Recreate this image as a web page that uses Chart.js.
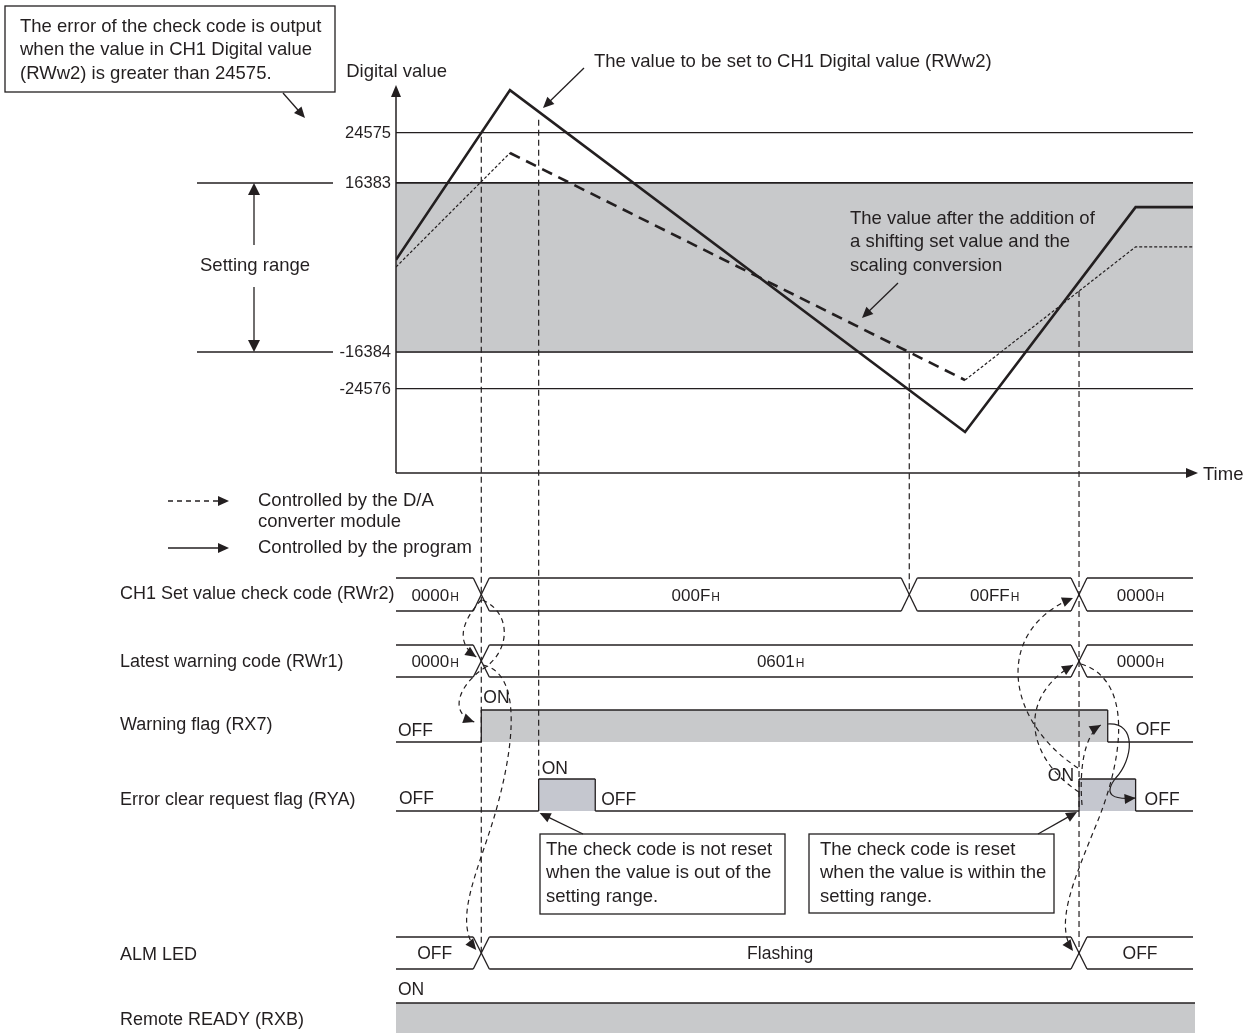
<!DOCTYPE html>
<html>
<head>
<meta charset="utf-8">
<script src="https://cdn.jsdelivr.net/npm/chart.js@4.4.1/dist/chart.umd.min.js"></script>
<style>
  html, body { margin: 0; padding: 0; background: #fff; }
  canvas { display: block; }
</style>
</head>
<body>
<canvas id="chart" width="1250" height="1033"></canvas>
<script>
// time runs 0..100 (arbitrary units), digital values
const timePoints = [0, 14.3, 71.4, 92.8, 100];
const valueToSet = [1500, 31600, -34100, 11700, 11700];
const valueAfterConversion = [100, 21300, -22600, 4000, 4000];
const yTicks = [24575, 16383, -16384, -24576];
const settingRange = [-16384, 16383];

// timing rows
const checkCodeTimes = [0, 10.7, 64.4, 85.7];
const checkCodeValues = ['0000', '000F', '00FF', '0000'];
const warningCodeTimes = [0, 10.7, 85.7];
const warningCodeValues = ['0000', '0601', '0000'];
const warningFlagOn = [10.7, 89.3];
const clearRequestPulses = [[17.9, 25.0], [85.7, 92.8]];
const almLedTimes = [0, 10.7, 85.7];
const almLedStates = ['OFF', 'Flashing', 'OFF'];

const INK = '#231f20';
const GRAY = '#c8c9cb';
const PULSE = '#c5c7cf';
const FAMILY = '"Liberation Sans", Arial, sans-serif';

// the y axis of the figure is schematic: each band between ticks has its own spacing
const knotValues = [-24576, -16384, 16383, 24575];
const knotDecimals = [0.2182, 0.3143, 0.7532, 0.8831];

function segIndex(arr, v) {
  let i = 0;
  while (i < arr.length - 2 && v > arr[i + 1]) i++;
  return i;
}
function valueToDecimal(v) {
  const i = segIndex(knotValues, v);
  const v0 = knotValues[i], v1 = knotValues[i + 1];
  const d0 = knotDecimals[i], d1 = knotDecimals[i + 1];
  return d0 + (v - v0) * (d1 - d0) / (v1 - v0);
}
function decimalToValue(d) {
  const i = segIndex(knotDecimals, d);
  const v0 = knotValues[i], v1 = knotValues[i + 1];
  const d0 = knotDecimals[i], d1 = knotDecimals[i + 1];
  return v0 + (d - d0) * (v1 - v0) / (d1 - d0);
}

class SchematicScale extends Chart.LinearScale {
  getPixelForValue(value) { return this.getPixelForDecimal(valueToDecimal(value)); }
  getValueForPixel(pixel) { return decimalToValue(this.getDecimalForPixel(pixel)); }
}
SchematicScale.id = 'schematic';
SchematicScale.defaults = Chart.LinearScale.defaults;
Chart.register(SchematicScale);

function font(size) { return size + 'px ' + FAMILY; }

function text(ctx, str, x, y, size, align) {
  ctx.font = font(size);
  ctx.fillStyle = INK;
  ctx.textAlign = align || 'left';
  ctx.textBaseline = 'middle';
  ctx.fillText(str, x, y);
}

function hexText(ctx, value, cx, cy) {
  ctx.font = font(17);
  const w1 = ctx.measureText(value).width;
  ctx.font = font(12);
  const w2 = ctx.measureText('H').width;
  const x = cx - (w1 + w2) / 2;
  ctx.fillStyle = INK;
  ctx.textAlign = 'left';
  ctx.textBaseline = 'alphabetic';
  ctx.font = font(17);
  ctx.fillText(value, x, cy + 6);
  ctx.font = font(12);
  ctx.fillText('H', x + w1 + 1, cy + 6);
}

function arrowHead(ctx, x, y, angle, len, half) {
  len = len || 11; half = half || 5;
  ctx.save();
  ctx.translate(x, y);
  ctx.rotate(angle);
  ctx.beginPath();
  ctx.moveTo(0, 0);
  ctx.lineTo(-len, -half);
  ctx.lineTo(-len, half);
  ctx.closePath();
  ctx.fillStyle = INK;
  ctx.fill();
  ctx.restore();
}

function arrowLine(ctx, x0, y0, x1, y1, dash, len, half) {
  const a = Math.atan2(y1 - y0, x1 - x0);
  const l = len || 11;
  ctx.save();
  ctx.setLineDash(dash || []);
  ctx.strokeStyle = INK;
  ctx.lineWidth = 1.3;
  ctx.beginPath();
  ctx.moveTo(x0, y0);
  ctx.lineTo(x1 - (l - 1) * Math.cos(a), y1 - (l - 1) * Math.sin(a));
  ctx.stroke();
  ctx.restore();
  arrowHead(ctx, x1, y1, a, l, half);
}

function curveArrow(ctx, pts, dashed) {
  ctx.save();
  ctx.strokeStyle = INK;
  ctx.lineWidth = 1.2;
  ctx.setLineDash(dashed ? [5, 4] : []);
  ctx.beginPath();
  ctx.moveTo(pts[0], pts[1]);
  for (let i = 2; i < pts.length; i += 6) {
    ctx.bezierCurveTo(pts[i], pts[i + 1], pts[i + 2], pts[i + 3], pts[i + 4], pts[i + 5]);
  }
  ctx.stroke();
  ctx.restore();
  const n = pts.length;
  arrowHead(ctx, pts[n - 2], pts[n - 1], Math.atan2(pts[n - 1] - pts[n - 3], pts[n - 2] - pts[n - 4]), 11, 5);
}

function line(ctx, x0, y0, x1, y1, width, dash) {
  ctx.save();
  ctx.strokeStyle = INK;
  ctx.lineWidth = width || 1.3;
  ctx.setLineDash(dash || []);
  ctx.beginPath();
  ctx.moveTo(x0, y0);
  ctx.lineTo(x1, y1);
  ctx.stroke();
  ctx.restore();
}

function box(ctx, x, y, w, h, lines, textX, firstY) {
  ctx.fillStyle = '#fff';
  ctx.fillRect(x, y, w, h);
  ctx.strokeStyle = INK;
  ctx.lineWidth = 1.3;
  ctx.setLineDash([]);
  ctx.strokeRect(x, y, w, h);
  lines.forEach((s, i) => text(ctx, s, textX, firstY + i * 23.3, 18.5));
}

// bus row with X transitions
function bus(ctx, xs, left, right, top, bot, drawLabel) {
  const h = 8, mid = (top + bot) / 2;
  const edges = xs.slice(1);
  for (let i = 0; i < xs.length; i++) {
    const a = i === 0 ? left : edges[i - 1] + h;
    const b = i === xs.length - 1 ? right : edges[i] - h;
    line(ctx, a, top, b, top);
    line(ctx, a, bot, b, bot);
    drawLabel(i, (a + b) / 2, mid);
  }
  edges.forEach(x => {
    line(ctx, x - h, top, x + h, bot);
    line(ctx, x - h, bot, x + h, top);
  });
}

const timingPlugin = {
  id: 'timing',
  afterDraw(chart) {
    const ctx = chart.ctx;
    const xs = chart.scales.x, ys = chart.scales.y;
    const area = chart.chartArea;
    const px = t => xs.getPixelForValue(t);
    const L = area.left, R = area.right;

    function lineYAt(series, t) {
      let i = 0;
      while (i < timePoints.length - 2 && t > timePoints[i + 1]) i++;
      const y0 = ys.getPixelForValue(series[i]), y1 = ys.getPixelForValue(series[i + 1]);
      return y0 + (y1 - y0) * (t - timePoints[i]) / (timePoints[i + 1] - timePoints[i]);
    }

    ctx.save();

    // axes with arrows
    line(ctx, L, area.bottom, L, area.top + 8, 1.5);
    arrowHead(ctx, L, area.top - 3, -Math.PI / 2, 12, 5);
    line(ctx, L, area.bottom, R - 4, area.bottom, 1.5);
    arrowHead(ctx, R + 5, area.bottom, 0, 12, 5);
    text(ctx, 'Time', R + 10, area.bottom + 2, 18.5);
    text(ctx, 'Digital value', 447, 72, 18.5, 'right');

    // tick labels
    yTicks.forEach(v => text(ctx, String(v), 391, ys.getPixelForValue(v), 16.5, 'right'));

    // setting range marker
    const yHi = ys.getPixelForValue(settingRange[1]);
    const yLo = ys.getPixelForValue(settingRange[0]);
    line(ctx, 197, yHi, 333, yHi);
    line(ctx, 197, yLo, 333, yLo);
    arrowLine(ctx, 254, 245, 254, yHi, null, 12, 6);
    arrowLine(ctx, 254, 287, 254, yLo, null, 12, 6);
    text(ctx, 'Setting range', 200, 266, 18.5);

    // annotations of the upper graph
    box(ctx, 5, 6, 330, 86, [
      'The error of the check code is output',
      'when the value in CH1 Digital value',
      '(RWw2) is greater than 24575.'
    ], 20, 27);
    arrowLine(ctx, 283, 93, 305, 118);
    text(ctx, 'The value to be set to CH1 Digital value (RWw2)', 594, 62, 18.5);
    arrowLine(ctx, 584, 68, 543, 108);
    ['The value after the addition of', 'a shifting set value and the', 'scaling conversion']
      .forEach((s, i) => text(ctx, s, 850, 219 + i * 23.3, 18.5));
    arrowLine(ctx, 898, 283, 862, 318);

    // legend
    arrowLine(ctx, 168, 501, 229, 501, [5, 4]);
    text(ctx, 'Controlled by the D/A', 258, 501, 18.5);
    text(ctx, 'converter module', 258, 522, 18.5);
    arrowLine(ctx, 168, 548, 229, 548);
    text(ctx, 'Controlled by the program', 258, 548, 18.5);

    // row titles
    text(ctx, 'CH1 Set value check code (RWr2)', 120, 594, 18);
    text(ctx, 'Latest warning code (RWr1)', 120, 662, 18);
    text(ctx, 'Warning flag (RX7)', 120, 725, 18);
    text(ctx, 'Error clear request flag (RYA)', 120, 800, 18);
    text(ctx, 'ALM LED', 120, 955, 18);
    text(ctx, 'Remote READY (RXB)', 120, 1020, 18);

    // check code and warning code buses
    bus(ctx, checkCodeTimes.map(px), L, R, 578, 611, (i, cx, cy) => hexText(ctx, checkCodeValues[i], cx, cy));
    bus(ctx, warningCodeTimes.map(px), L, R, 645, 677, (i, cx, cy) => hexText(ctx, warningCodeValues[i], cx, cy));

    // warning flag
    const wOn = px(warningFlagOn[0]), wOff = px(warningFlagOn[1]);
    ctx.fillStyle = GRAY;
    ctx.fillRect(wOn, 710, wOff - wOn, 32);
    line(ctx, L, 742, wOn, 742);
    line(ctx, wOn, 742, wOn, 710);
    line(ctx, wOn, 710, wOff, 710);
    line(ctx, wOff, 710, wOff, 742);
    line(ctx, wOff, 742, R, 742);
    text(ctx, 'OFF', 398, 731, 17.5);
    text(ctx, 'ON', wOn + 2, 698, 17.5);
    text(ctx, 'OFF', wOff + 28, 730, 17.5);

    // error clear request flag
    let last = L;
    clearRequestPulses.forEach(([a, b]) => {
      const xa = px(a), xb = px(b);
      ctx.fillStyle = PULSE;
      ctx.fillRect(xa, 779, xb - xa, 32);
      line(ctx, last, 811, xa, 811);
      line(ctx, xa, 811, xa, 779);
      line(ctx, xa, 779, xb, 779);
      line(ctx, xb, 779, xb, 811);
      last = xb;
    });
    line(ctx, last, 811, R, 811);
    const p1a = px(clearRequestPulses[0][0]), p1b = px(clearRequestPulses[0][1]);
    const p2a = px(clearRequestPulses[1][0]), p2b = px(clearRequestPulses[1][1]);
    text(ctx, 'OFF', 399, 799, 17.5);
    text(ctx, 'ON', p1a + 3, 769, 17.5);
    text(ctx, 'OFF', p1b + 6, 800, 17.5);
    text(ctx, 'ON', p2a - 5, 776, 17.5, 'right');
    text(ctx, 'OFF', p2b + 9, 800, 17.5);

    // ALM LED
    bus(ctx, almLedTimes.map(px), L, R, 937, 969, (i, cx, cy) => text(ctx, almLedStates[i], cx, cy + 1, 17.5, 'center'));

    // remote READY
    ctx.fillStyle = GRAY;
    ctx.fillRect(L, 1003, R + 2 - L, 40);
    line(ctx, L, 1003, R + 2, 1003);
    text(ctx, 'ON', 398, 990, 17.5);

    // guide lines from the graph down to the rows
    const dash = [6, 4];
    const tA = checkCodeTimes[1], tB = clearRequestPulses[0][0], tC = checkCodeTimes[2], tD = checkCodeTimes[3];
    line(ctx, px(tA), lineYAt(valueToSet, tA) + 4, px(tA), 953, 1.2, dash);
    line(ctx, px(tB), lineYAt(valueToSet, tB) + 8, px(tB), 779, 1.2, dash);
    line(ctx, px(tC), lineYAt(valueAfterConversion, tC) + 1, px(tC), 594, 1.2, dash);
    line(ctx, px(tD), lineYAt(valueAfterConversion, tD), px(tD), 953, 1.2, dash);

    // cause/effect arrows at the range error
    const x0 = px(tA);
    curveArrow(ctx, [x0, 600, x0 - 14, 615, x0 - 30, 640, x0 - 5, 657], true);
    curveArrow(ctx, [x0 + 1, 600, x0 + 30, 612, x0 + 30, 650, x0 + 3, 668,
      x0 - 20, 683, x0 - 35, 712, x0 - 7, 722], true);
    curveArrow(ctx, [x0 + 2, 665, x0 + 45, 675, x0 + 30, 760, x0 + 12, 820,
      x0 - 5, 875, x0 - 28, 922, x0 - 5, 950], true);

    // cause/effect arrows at the error clear
    const x1 = px(tD), xf = wOff;
    curveArrow(ctx, [x1 - 1, 768, x1 - 75, 720, x1 - 85, 630, x1 - 6, 598], true);
    curveArrow(ctx, [x1, 792, x1 - 50, 760, x1 - 65, 700, x1 - 6, 665], true);
    curveArrow(ctx, [x1 + 3, 805, x1, 770, x1 + 5, 735, xf - 7, 725], true);
    curveArrow(ctx, [x1 + 2, 664, x1 + 55, 680, x1 + 45, 760, x1 + 15, 830,
      x1 - 5, 880, x1 - 25, 925, x1 - 6, 951], true);
    curveArrow(ctx, [xf, 724, xf + 30, 722, xf + 25, 760, xf + 8, 778,
      xf - 5, 795, xf + 5, 800, p2b, 798], false);

    // notes under the error clear request row
    box(ctx, 540, 834, 245, 80, [
      'The check code is not reset',
      'when the value is out of the',
      'setting range.'
    ], 546, 850);
    arrowLine(ctx, 583, 834, p1a + 1, 813);
    box(ctx, 809, 834, 245, 79, [
      'The check code is reset',
      'when the value is within the',
      'setting range.'
    ], 820, 850);
    arrowLine(ctx, 1038, 834, p2a - 2, 812);

    ctx.restore();
  }
};

new Chart(document.getElementById('chart').getContext('2d'), {
  type: 'line',
  data: {
    datasets: [
      {
        label: 'The value to be set to CH1 Digital value (RWw2)',
        data: timePoints.map((t, i) => ({ x: t, y: valueToSet[i] })),
        borderColor: INK,
        borderWidth: 2.6,
        pointRadius: 0,
        order: 0
      },
      {
        label: 'The value after the addition of a shifting set value and the scaling conversion',
        data: timePoints.map((t, i) => ({ x: t, y: valueAfterConversion[i] })),
        borderColor: INK,
        borderWidth: 1.2,
        borderDash: [3, 2],
        pointRadius: 0,
        segment: {
          borderWidth: c => c.p0DataIndex === 1 ? 2.6 : 1.2,
          borderDash: c => c.p0DataIndex === 1 ? [11, 7] : [3, 2]
        },
        order: 1
      },
      {
        label: 'Setting range',
        data: [{ x: 0, y: settingRange[1] }, { x: 100, y: settingRange[1] }],
        borderColor: INK,
        borderWidth: 1.3,
        backgroundColor: GRAY,
        fill: { value: settingRange[0] },
        pointRadius: 0,
        order: 3
      },
      {
        label: 'Setting range lower limit',
        data: [{ x: 0, y: settingRange[0] }, { x: 100, y: settingRange[0] }],
        borderColor: INK,
        borderWidth: 1.3,
        pointRadius: 0,
        order: 2
      }
    ]
  },
  options: {
    responsive: false,
    devicePixelRatio: 1,
    animation: false,
    events: [],
    layout: { padding: { left: 396, right: 57, top: 88, bottom: 560 } },
    plugins: { legend: { display: false }, tooltip: { enabled: false } },
    scales: {
      x: { type: 'linear', min: 0, max: 100, display: false },
      y: {
        type: 'schematic',
        min: -43000,
        max: 32000,
        ticks: { display: false },
        border: { display: false },
        grid: { color: INK, lineWidth: 1.3, drawTicks: false },
        afterBuildTicks: s => { s.ticks = yTicks.map(v => ({ value: v })); },
        afterFit: s => { s.width = 0; }
      }
    }
  },
  plugins: [timingPlugin]
});
</script>
</body>
</html>
